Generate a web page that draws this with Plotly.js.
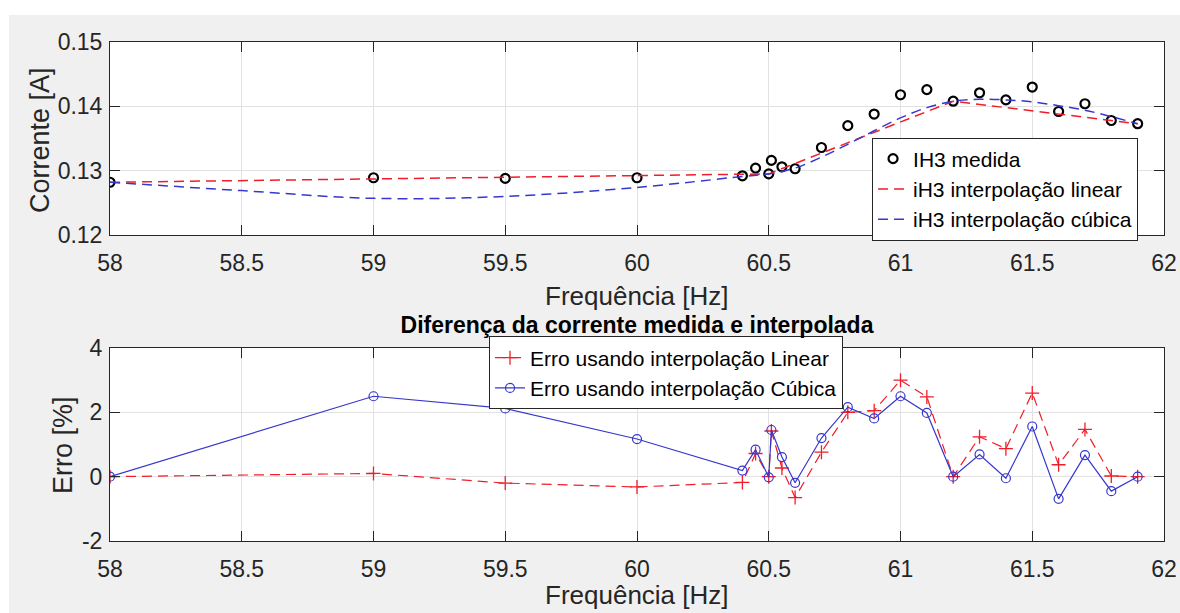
<!DOCTYPE html>
<html>
<head>
<meta charset="utf-8">
<script src="https://cdn.plot.ly/plotly-3.0.1.min.js"></script>
<style>
  html, body { margin: 0; padding: 0; background: #ffffff; width: 1180px; height: 613px; overflow: hidden; }
  #chart { position: absolute; left: 9px; top: 15px; width: 1171px; height: 598px; }
</style>
</head>
<body>
<div id="chart"></div>
<script>
// Measurement frequencies [Hz]
const freq = [58, 59, 59.5, 60, 60.4, 60.45, 60.5, 60.51, 60.55, 60.6, 60.7, 60.8, 60.9,
              61, 61.1, 61.2, 61.3, 61.4, 61.5, 61.6, 61.7, 61.8, 61.9];
// Measured 3rd-harmonic current [A]
const ih3Measured = [0.1282, 0.1289, 0.1288, 0.1289, 0.1292, 0.1304, 0.1295, 0.1316, 0.1306, 0.1303, 0.1336, 0.1370, 0.1388,
                     0.1418, 0.1426, 0.1408, 0.1421, 0.1410, 0.1430, 0.1392, 0.1404, 0.1378, 0.1373];
// Linear interpolation (nodes)
const linearFreq = [58, 60.5, 61.2, 61.9];
const linearCurrent = [0.1282, 0.1295, 0.1408, 0.1373];
// Cubic interpolation curve
const cubicFreq = [58, 58.5, 59, 59.5, 60, 60.4, 60.5, 60.6, 60.7, 60.8, 60.9,
                   61, 61.1, 61.2, 61.3, 61.4, 61.5, 61.6, 61.7, 61.8, 61.9];
const cubicCurrent = [0.1282, 0.1269, 0.1257, 0.1260, 0.1274, 0.1291, 0.1295, 0.1304, 0.1321, 0.1341, 0.1362,
                      0.1382, 0.1398, 0.1408, 0.1411, 0.1410, 0.1407, 0.1401, 0.1394, 0.1384, 0.1373];
// Error between measured and interpolated current [%]
const errLinear = [0, 0.1, -0.2, -0.32, -0.18, 0.72, 0, 1.42, 0.27, -0.65, 0.76, 2.0, 2.05,
                   3.0, 2.48, 0, 1.24, 0.87, 2.6, 0.37, 1.47, 0.02, 0];
const errCubic = [0, 2.5, 2.12, 1.17, 0.19, 0.84, -0.02, 1.45, 0.61, -0.19, 1.2, 2.16, 1.81,
                  2.5, 1.98, 0, 0.69, -0.05, 1.56, -0.69, 0.67, -0.45, 0];

// Tick values and labels
const freqTicks = [58, 58.5, 59, 59.5, 60, 60.5, 61, 61.5, 62];
const freqTickLabels = ['58', '58.5', '59', '59.5', '60', '60.5', '61', '61.5', '62'];
const currentTicks = [0.12, 0.13, 0.14, 0.15];
const currentTickLabels = ['0.12', '0.13', '0.14', '0.15'];
const errTicks = [-2, 0, 2, 4];
const errTickLabels = ['-2', '0', '2', '4'];

const FONT = '"Liberation Sans", Arial, Helvetica, sans-serif';
const RED = 'rgb(240,30,40)';
const BLUE = 'rgb(55,55,205)';

const traces = [
  { x: freq, y: ih3Measured, name: 'IH3 medida', type: 'scatter', mode: 'markers',
    marker: { symbol: 'circle-open', size: 9, color: '#000', line: { width: 2.2, color: '#000' } },
    xaxis: 'x', yaxis: 'y', legend: 'legend' },
  { x: linearFreq, y: linearCurrent, name: 'iH3 interpolação linear', type: 'scatter', mode: 'lines',
    line: { color: RED, width: 1.5, dash: '10px,6px' },
    xaxis: 'x', yaxis: 'y', legend: 'legend' },
  { x: cubicFreq, y: cubicCurrent, name: 'iH3 interpolação cúbica', type: 'scatter', mode: 'lines',
    line: { color: BLUE, width: 1.5, dash: '10px,6px', shape: 'spline', smoothing: 1 },
    xaxis: 'x', yaxis: 'y', legend: 'legend' },
  { x: freq, y: errLinear, name: 'Erro usando interpolação Linear', type: 'scatter', mode: 'lines+markers',
    line: { color: RED, width: 1.2, dash: '10px,6px' },
    marker: { symbol: 'cross-thin-open', size: 10, color: RED, line: { width: 1.3, color: RED } },
    xaxis: 'x2', yaxis: 'y2', legend: 'legend2' },
  { x: freq, y: errCubic, name: 'Erro usando interpolação Cúbica', type: 'scatter', mode: 'lines+markers',
    line: { color: BLUE, width: 1.2 },
    marker: { symbol: 'circle-open', size: 9, color: BLUE, line: { width: 1.2, color: BLUE } },
    xaxis: 'x2', yaxis: 'y2', legend: 'legend2' }
];

const axisBase = {
  showline: true, linecolor: '#262626', linewidth: 1, mirror: 'ticks',
  ticks: 'inside', ticklen: 10, tickwidth: 1, tickcolor: '#262626',
  showgrid: true, gridcolor: '#e2e2e2', gridwidth: 1, zeroline: false,
  tickfont: { family: FONT, size: 23, color: '#262626' },
  tickmode: 'array', fixedrange: true
};
const xAxisBase = Object.assign({}, axisBase, { ticklabelstandoff: 7, range: [58, 62], tickvals: freqTicks, ticktext: freqTickLabels });
const yAxisBase = Object.assign({}, axisBase, { ticklabelstandoff: 2 });

const legendBase = {
  bgcolor: '#ffffff', bordercolor: '#262626', borderwidth: 1,
  font: { family: FONT, size: 21, color: '#000' },
  xanchor: 'left', yanchor: 'middle', tracegroupgap: 0, itemwidth: 30
};

const xTitleFont = { family: FONT, size: 26, color: '#262626' };
const yTitleFont = { family: FONT, size: 27, color: '#262626' };

const layout = {
  width: 1171, height: 598,
  margin: { l: 101, r: 16, t: 27, b: 72, pad: 0 },
  paper_bgcolor: '#f0f0f0', plot_bgcolor: '#ffffff',
  showlegend: true,
  title: { text: '<b>Diferença da corrente medida e interpolada</b>',
           font: { family: FONT, size: 23, color: '#000' },
           xref: 'paper', x: 0.5, xanchor: 'center', yref: 'container', y: 0.4816, yanchor: 'middle' },
  xaxis: Object.assign({}, xAxisBase, { anchor: 'y' }),
  yaxis: Object.assign({}, yAxisBase, { anchor: 'x', domain: [0.6132, 1], range: [0.12, 0.15], tickvals: currentTicks, ticktext: currentTickLabels }),
  xaxis2: Object.assign({}, xAxisBase, { anchor: 'y2' }),
  yaxis2: Object.assign({}, yAxisBase, { anchor: 'x2', domain: [0, 0.3868], range: [-2, 4], tickvals: errTicks, ticktext: errTickLabels }),
  legend: Object.assign({}, legendBase, { x: 0.723, y: 0.7054 }),
  legend2: Object.assign({}, legendBase, { x: 0.3596, y: 0.3367 }),
  annotations: [
    { text: 'Frequência [Hz]', xref: 'paper', yref: 'paper', x: 0.5, y: 0.491, xanchor: 'center', yanchor: 'middle', showarrow: false, font: xTitleFont },
    { text: 'Frequência [Hz]', xref: 'paper', yref: 'paper', x: 0.5, y: -0.1423, xanchor: 'center', yanchor: 'bottom', showarrow: false, font: xTitleFont },
    { text: 'Corrente [A]', xref: 'paper', yref: 'paper', x: -0.0664, y: 0.8036, xanchor: 'center', yanchor: 'middle', textangle: -90, showarrow: false, font: yTitleFont },
    { text: 'Erro [%]', xref: 'paper', yref: 'paper', x: -0.0446, y: 0.1924, xanchor: 'center', yanchor: 'middle', textangle: -90, showarrow: false, font: yTitleFont }
  ]
};

Plotly.newPlot('chart', traces, layout, { staticPlot: true, displayModeBar: false });
</script>
</body>
</html>
